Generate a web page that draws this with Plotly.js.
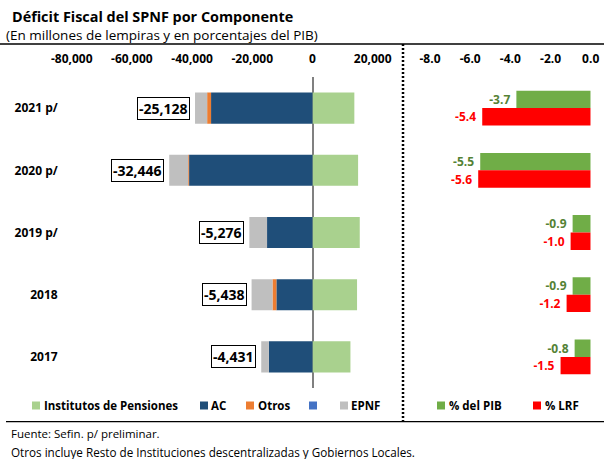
<!DOCTYPE html>
<html>
<head>
<meta charset="utf-8">
<script src="https://cdn.plot.ly/plotly-3.0.1.min.js"></script>
<style>html,body{margin:0;padding:0;background:#fff;}#chart{width:604px;height:459px;}</style>
</head>
<body>
<div id="chart"></div>
<script>
// ---- Data ----
const categorias = ['2021 p/', '2020 p/', '2019 p/', '2018', '2017'];
const institutos = [13900, 15150, 15700, 14800, 12600];
const ac = [33700, 41000, 15100, 12000, 14500];
const otros = [1300, 300, 0, 1300, 0];
const epnf = [4028, 6296, 5876, 6938, 2531];
const totales = [-25128, -32446, -5276, -5438, -4431];
const pctPIB = [-3.7, -5.5, -0.9, -0.9, -0.8];
const pctLRF = [-5.4, -5.6, -1.0, -1.2, -1.5];
const ticksMiles = [-80000, -60000, -40000, -20000, 0, 20000];
const ticksPct = [-8, -6, -4, -2, 0];

// ---- Helpers ----
const W = 604, H = 459;
const px = x => x / W;
const py = y => 1 - y / H;
const FONT = 'Open Sans, Noto Sans, sans-serif';
const fmt = v => v.toLocaleString('en-US');
const neg = arr => arr.map(v => -v);

const baseOtros = ac.map(v => -v);
const baseEpnf = ac.map((v, i) => -(v + otros[i]));
const extremo = ac.map((v, i) => -(v + otros[i] + epnf[i]));

const C = {
  inst: '#A9D18E', ac: '#1F4E79', otros: '#ED7D31', azul: '#4472C4', epnf: '#BFBFBF',
  pib: '#70AD47', lrf: '#FF0000', pibTxt: '#548235'
};

const leftBar = (name, x, base, color) => ({
  type: 'bar', orientation: 'h', name, x, y: categorias, base,
  xaxis: 'x', yaxis: 'y', width: 0.5, offset: -0.25,
  marker: { color }, hoverinfo: 'x+name'
});

const traces = [
  leftBar('Institutos de Pensiones', institutos, categorias.map(() => 0), C.inst),
  leftBar('AC', neg(ac), categorias.map(() => 0), C.ac),
  leftBar('Otros', neg(otros), baseOtros, C.otros),
  leftBar('EPNF', neg(epnf), baseEpnf, C.epnf),
  {
    type: 'bar', orientation: 'h', name: '% del PIB', x: pctPIB, y: categorias,
    xaxis: 'x2', yaxis: 'y2', width: 0.28, offset: -0.28, marker: { color: C.pib },
    text: pctPIB.map(v => v.toFixed(1) + ' '), textposition: 'outside', constraintext: 'none',
    textfont: { color: C.pibTxt, size: 12, weight: 700, family: FONT }, cliponaxis: false
  },
  {
    type: 'bar', orientation: 'h', name: '% LRF', x: pctLRF, y: categorias,
    xaxis: 'x2', yaxis: 'y2', width: 0.28, offset: 0, marker: { color: C.lrf },
    text: pctLRF.map(v => v.toFixed(1) + ' '), textposition: 'outside', constraintext: 'none',
    textfont: { color: C.lrf, size: 12, weight: 700, family: FONT }, cliponaxis: false
  }
];

const yDom = [py(388), py(77)];

const annotations = [
  { text: 'Déficit Fiscal del SPNF por Componente', x: px(10), y: py(17), xref: 'paper', yref: 'paper',
    xanchor: 'left', yanchor: 'middle', showarrow: false, font: { size: 14.4, weight: 700 } },
  { text: '(En millones de lempiras y en porcentajes del PIB)', x: px(4), y: py(35), xref: 'paper', yref: 'paper',
    xanchor: 'left', yanchor: 'middle', showarrow: false, font: { size: 13.5 } },
  { text: 'Fuente: Sefin. p/ preliminar.', x: px(9), y: py(433), xref: 'paper', yref: 'paper',
    xanchor: 'left', yanchor: 'middle', showarrow: false, font: { size: 11.5 } },
  { text: 'Otros incluye Resto de Instituciones descentralizadas y Gobiernos Locales.', x: px(9), y: py(452),
    xref: 'paper', yref: 'paper', xanchor: 'left', yanchor: 'middle', showarrow: false, font: { size: 11.7 } }
];

totales.forEach((t, i) => {
  annotations.push({
    x: extremo[i], y: i, xref: 'x', yref: 'y', xanchor: 'right', yanchor: 'middle',
    xshift: -5, text: fmt(t), showarrow: false, bordercolor: '#000', borderwidth: 1,
    borderpad: 1, bgcolor: '#fff', font: { size: 14, weight: 700 }
  });
});

// legend entries: [label, color, swatch left px, text left px]
const legend = [
  ['Institutos de Pensiones', C.inst, 32, 42],
  ['AC', C.ac, 200, 209],
  ['Otros', C.otros, 246, 256],
  ['', C.azul, 309, 0],
  ['EPNF', C.epnf, 340, 349],
  ['% del PIB', C.pib, 437, 447],
  ['% LRF', C.lrf, 533, 543]
];
const shapes = [
  { type: 'line', xref: 'paper', yref: 'paper', x0: 0, x1: 1, y0: py(44), y1: py(44), line: { color: '#000', width: 1.3 } },
  { type: 'line', xref: 'paper', yref: 'paper', x0: px(6), x1: 1, y0: py(421.7), y1: py(421.7), line: { color: '#000', width: 1.3 } },
  { type: 'line', xref: 'paper', yref: 'paper', x0: px(403), x1: px(403), y0: py(44), y1: py(422), line: { color: '#000', width: 2.5, dash: '2px,2px' } }
];
legend.forEach(([lab, col, sx, tx]) => {
  shapes.push({ type: 'rect', xref: 'paper', yref: 'paper', x0: px(sx), x1: px(sx + 8), y0: py(409.5), y1: py(401.5),
    fillcolor: col, line: { width: 0 } });
  if (lab) annotations.push({ text: lab, x: px(tx), y: py(405.5), xref: 'paper', yref: 'paper', xanchor: 'left',
    yanchor: 'middle', showarrow: false, font: { size: 11.5, weight: 700 } });
});

const layout = {
  width: W, height: H, margin: { l: 0, r: 0, t: 0, b: 0 },
  paper_bgcolor: '#fff', plot_bgcolor: 'rgba(0,0,0,0)',
  barmode: 'overlay', showlegend: false,
  font: { family: FONT, color: '#000' },
  xaxis: {
    domain: [px(71.7), px(372.7)], range: [-80000, 20000], side: 'top', anchor: 'y',
    tickvals: ticksMiles, ticktext: ticksMiles.map(fmt), tickfont: { size: 12, weight: 700 },
    showgrid: false, zeroline: true, zerolinecolor: '#808080', zerolinewidth: 2, ticks: '',
    ticklabelstandoff: 11, showline: false, fixedrange: true
  },
  xaxis3: {
    overlaying: 'x', anchor: 'y', side: 'bottom', range: [-80000, 20000],
    showline: true, linecolor: '#000', linewidth: 1, ticks: 'inside', ticklen: 4, tickcolor: '#000',
    tickvals: ticksMiles, showticklabels: false, showgrid: false, zeroline: false, fixedrange: true
  },
  yaxis: {
    domain: yDom, type: 'category', range: [4.5, -0.5], anchor: 'x',
    tickfont: { size: 12, weight: 700 }, ticks: '', showgrid: false, zeroline: false,
    ticklabelstandoff: 13, fixedrange: true
  },
  xaxis2: {
    domain: [px(430), px(590.7)], range: [-8, 0], side: 'top', anchor: 'y2',
    tickvals: ticksPct, ticktext: ticksPct.map(v => v.toFixed(1)), tickfont: { size: 12, weight: 700 },
    showgrid: false, zeroline: false, ticks: '', ticklabelstandoff: 11, fixedrange: true
  },
  xaxis4: {
    overlaying: 'x2', anchor: 'y2', side: 'bottom', range: [-8, 0],
    showline: true, linecolor: '#000', linewidth: 1, ticks: '', showticklabels: false,
    showgrid: false, zeroline: false, fixedrange: true
  },
  yaxis2: {
    domain: yDom, type: 'category', range: [4.5, -0.5], anchor: 'x2',
    showticklabels: false, ticks: '', showgrid: false, zeroline: false, fixedrange: true
  },
  annotations, shapes
};

Plotly.newPlot('chart', traces, layout, { displayModeBar: false, staticPlot: true });
</script>
</body>
</html>
